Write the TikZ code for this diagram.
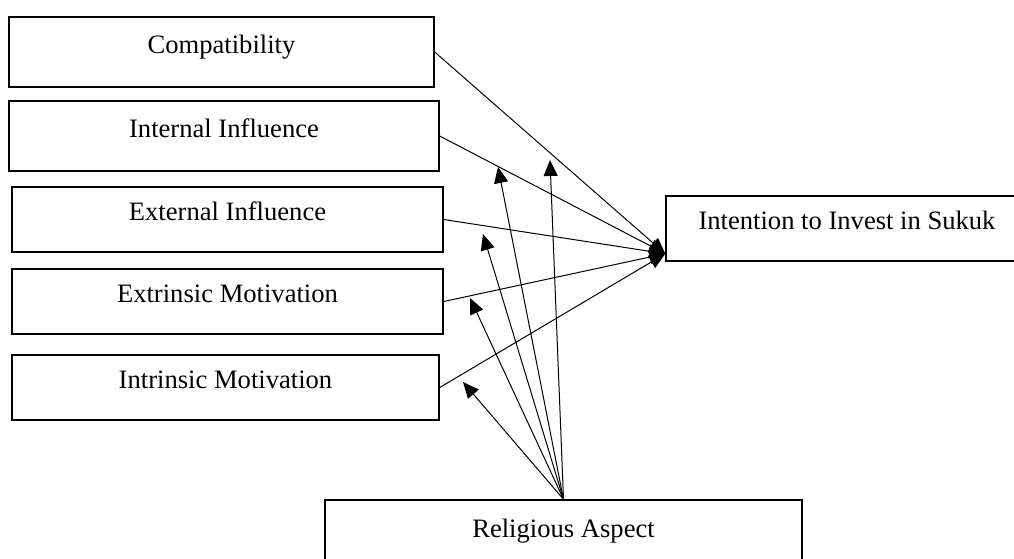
\documentclass[tikz,border=0pt]{standalone}
\usepackage{fontspec}
\setmainfont{Liberation Serif}
\usepackage{tikz}
\usetikzlibrary{positioning, arrows.meta}

\begin{document}
\begin{tikzpicture}[x=1pt, y=-1pt,
  box/.style={draw, rectangle, line width=1.4pt, inner sep=0pt,
    text height=22pt, text depth=20pt, font=\fontsize{26.6}{30}\selectfont},
  link/.style={-{Triangle[length=16pt, width=14pt]}, line width=1pt}]
\useasboundingbox (0,0) rectangle (1014,558);
\clip (0,0) rectangle (1014,558);
% Factor boxes
\node[box, minimum width=425pt, minimum height=70pt] (compat) at (221.5,52) {Compatibility};
\node[box, minimum width=430pt, minimum height=70pt] (internal) at (224,136) {Internal Influence};
\node[box, minimum width=431pt, minimum height=65pt] (external) at (227.5,219.5) {External Influence};
\node[box, minimum width=431pt, minimum height=65pt] (extrinsic) at (227.5,301.5) {Extrinsic Motivation};
\node[box, minimum width=427pt, minimum height=65pt] (intrinsic) at (225.5,387.5) {Intrinsic Motivation};
% Outcome and moderator
\node[box, minimum width=362pt, minimum height=65pt] (intent) at (847,228.5) {Intention to Invest in Sukuk};
\node[box, minimum width=477pt, minimum height=72pt] (relig) at (563.5,536) {Religious Aspect};
% Arrow targets
\coordinate (hub) at ([yshift=8pt]intent.south west);
\coordinate (m1) at (550,160);
\coordinate (m2) at (498,167);
\coordinate (m3) at (483,234);
\coordinate (m4) at (470,298);
\coordinate (m5) at (463,382);
% Direct paths
\foreach \b in {compat,internal,external,extrinsic,intrinsic}{
\draw[link] (\b.east)--(hub);
}
% Moderating paths
\foreach \m in {m1,m2,m3,m4,m5}{
\draw[link] (relig.north)--(\m);
}
\end{tikzpicture}
\end{document}
